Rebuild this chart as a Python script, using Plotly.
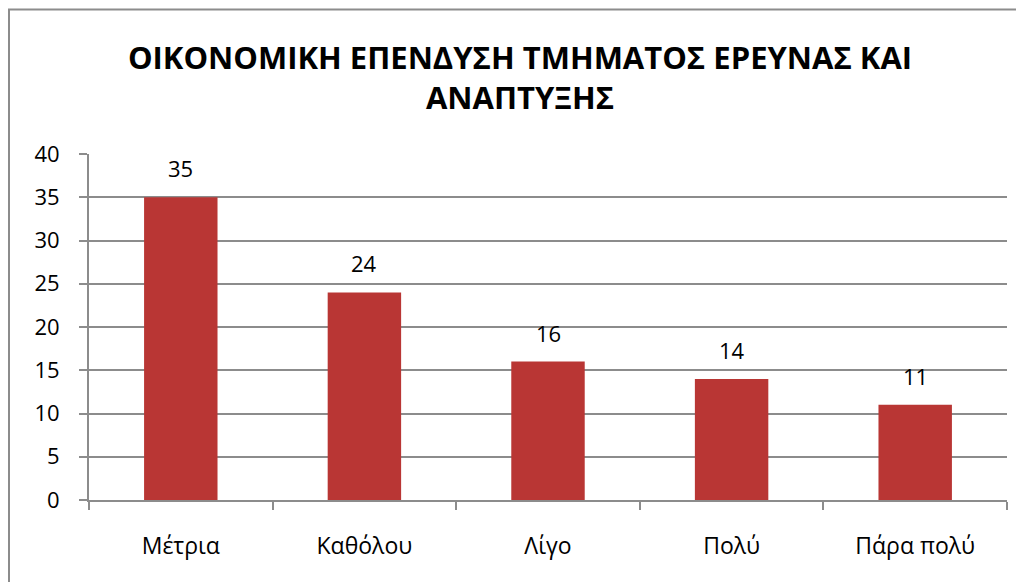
import plotly.graph_objects as go

categories = ["Μέτρια", "Καθόλου", "Λίγο", "Πολύ", "Πάρα πολύ"]
values = [35, 24, 16, 14, 11]
y_ticks = [0, 5, 10, 15, 20, 25, 30, 35, 40]
title_text = "ΟΙΚΟΝΟΜΙΚΗ ΕΠΕΝΔΥΣΗ ΤΜΗΜΑΤΟΣ ΕΡΕΥΝΑΣ ΚΑΙ<br>ΑΝΑΠΤΥΞΗΣ"

FONT = "Open Sans"
W, H = 1024, 582
ML, MR, MT, MB = 81, 25, 146, 90
pw, ph = W - ML - MR, H - MT - MB

fig = go.Figure()
fig.add_trace(go.Bar(
    x=categories, y=values,
    marker=dict(color="#B93634", line=dict(width=0)),
    width=0.40,
    hoverinfo="x+y",
))

for c, v in zip(categories, values):
    fig.add_annotation(x=c, y=v, text=str(v), showarrow=False,
                       yanchor="bottom", yshift=12,
                       font=dict(family=FONT, size=22, color="#000000"))

def px2paper_x(px):
    return (px - ML) / pw

def px2paper_y(py):
    return (H - MB - py) / ph

# outer chart border
fig.add_shape(type="rect", xref="paper", yref="paper",
              x0=px2paper_x(1), x1=px2paper_x(W + 20),
              y0=px2paper_y(H + 20), y1=px2paper_y(1.5),
              line=dict(color="#8C8C8C", width=2), fillcolor="rgba(0,0,0,0)",
              layer="above")

fig.update_layout(
    width=W, height=H,
    margin=dict(l=ML, r=MR, t=MT, b=MB),
    paper_bgcolor="white", plot_bgcolor="white",
    showlegend=False,
    font=dict(family=FONT, size=22, color="#000000"),
    title=dict(text="<b>" + title_text + "</b>", xanchor="center",
               x=(512 - ML) / pw, xref="paper",
               y=1 - 61 / H, yanchor="top", yref="container",
               font=dict(family=FONT, size=31, color="#000000")),
    bargap=0.6,
)

fig.update_xaxes(
    showline=True, linecolor="#8C8C8C", linewidth=2,
    ticks="outside", tickson="boundaries", ticklen=8, tickcolor="#8C8C8C", tickwidth=2,
    showgrid=False, tickfont=dict(family=FONT, size=23, color="#000000"),
    ticklabelstandoff=24,
)
fig.update_yaxes(
    range=[0, 40], tickvals=y_ticks,
    showline=True, linecolor="#8C8C8C", linewidth=2,
    ticks="outside", ticklen=8, tickcolor="#8C8C8C", tickwidth=2,
    showgrid=True, gridcolor="#8C8C8C", gridwidth=1.5,
    zeroline=False, ticklabelstandoff=15,
    tickfont=dict(family=FONT, size=22, color="#000000"),
)

fig.write_html("out.html")
